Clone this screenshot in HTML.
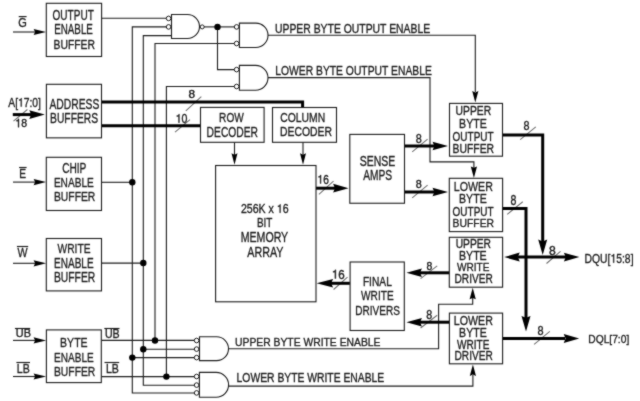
<!DOCTYPE html>
<html><head><meta charset="utf-8"><style>
html,body{margin:0;padding:0;background:#fff;}
svg{display:block;}
#w{width:640px;height:401px;overflow:hidden;will-change:transform;}
</style></head><body><div id="w">
<svg width="640" height="401" viewBox="0 0 640 401">
<defs><filter id="bl" x="0" y="0" width="100%" height="100%" color-interpolation-filters="sRGB"><feConvolveMatrix order="3" kernelMatrix="1 2 1 2 16 2 1 2 1" edgeMode="duplicate"/></filter></defs>
<g filter="url(#bl)"><rect width="640" height="401" fill="#fff"/>
<path d="M185.80,110.80 L201.30,96.60" stroke="#707070" stroke-width="1.1"/>
<path d="M175.00,132.10 L190.00,119.70" stroke="#707070" stroke-width="1.1"/>
<path d="M13.50,121.20 L27.40,109.50" stroke="#707070" stroke-width="1.1"/>
<path d="M318.90,194.40 L333.50,181.10" stroke="#707070" stroke-width="1.1"/>
<path d="M412.20,151.80 L427.60,139.10" stroke="#707070" stroke-width="1.1"/>
<path d="M412.20,197.80 L427.60,185.10" stroke="#707070" stroke-width="1.1"/>
<path d="M520.20,139.70 L535.80,126.80" stroke="#707070" stroke-width="1.1"/>
<path d="M507.20,214.40 L522.80,201.70" stroke="#707070" stroke-width="1.1"/>
<path d="M546.50,263.50 L560.50,251.30" stroke="#707070" stroke-width="1.1"/>
<path d="M534.10,344.30 L549.80,331.30" stroke="#707070" stroke-width="1.1"/>
<path d="M420.60,278.60 L437.20,265.90" stroke="#707070" stroke-width="1.1"/>
<path d="M420.60,328.00 L437.20,315.30" stroke="#707070" stroke-width="1.1"/>
<path d="M333.60,289.50 L347.50,277.20" stroke="#707070" stroke-width="1.1"/>
<path d="M13.00,32.00 L38.00,32.00" fill="none" stroke="#1c1c1c" stroke-width="1.1" stroke-linejoin="miter" stroke-linecap="butt"/>
<path d="M46.10,32.00 L33.60,35.10 L35.10,32.00 L33.60,28.90 Z" fill="#000"/>
<path d="M13.00,182.10 L38.00,182.10" fill="none" stroke="#1c1c1c" stroke-width="1.1" stroke-linejoin="miter" stroke-linecap="butt"/>
<path d="M46.10,182.10 L33.60,185.20 L35.10,182.10 L33.60,179.00 Z" fill="#000"/>
<path d="M13.00,263.30 L38.00,263.30" fill="none" stroke="#1c1c1c" stroke-width="1.1" stroke-linejoin="miter" stroke-linecap="butt"/>
<path d="M46.10,263.30 L33.60,266.40 L35.10,263.30 L33.60,260.20 Z" fill="#000"/>
<path d="M13.00,340.40 L38.00,340.40" fill="none" stroke="#1c1c1c" stroke-width="1.1" stroke-linejoin="miter" stroke-linecap="butt"/>
<path d="M46.10,340.40 L33.60,343.50 L35.10,340.40 L33.60,337.30 Z" fill="#000"/>
<path d="M13.00,376.50 L38.00,376.50" fill="none" stroke="#1c1c1c" stroke-width="1.1" stroke-linejoin="miter" stroke-linecap="butt"/>
<path d="M46.10,376.50 L33.60,379.60 L35.10,376.50 L33.60,373.40 Z" fill="#000"/>
<path d="M12.80,114.60 L32.00,114.60" fill="none" stroke="#000" stroke-width="3.0" stroke-linejoin="miter" stroke-linecap="butt"/>
<path d="M44.80,114.60 L29.30,118.90 L31.16,114.60 L29.30,110.30 Z" fill="#000"/>
<path d="M101.50,18.30 L167.00,18.30" fill="none" stroke="#1c1c1c" stroke-width="1.1" stroke-linejoin="miter" stroke-linecap="butt"/>
<path d="M167.00,26.90 L132.30,26.90 L132.30,393.00 L195.00,393.00" fill="none" stroke="#1c1c1c" stroke-width="1.1" stroke-linejoin="miter" stroke-linecap="butt"/>
<path d="M171.50,35.60 L143.30,35.60 L143.30,385.20 L195.00,385.20" fill="none" stroke="#1c1c1c" stroke-width="1.1" stroke-linejoin="miter" stroke-linecap="butt"/>
<path d="M235.00,43.50 L155.00,43.50 L155.00,340.40" fill="none" stroke="#1c1c1c" stroke-width="1.1" stroke-linejoin="miter" stroke-linecap="butt"/>
<path d="M235.00,86.50 L166.40,86.50 L166.40,376.60" fill="none" stroke="#1c1c1c" stroke-width="1.1" stroke-linejoin="miter" stroke-linecap="butt"/>
<path d="M101.50,182.30 L132.30,182.30" fill="none" stroke="#1c1c1c" stroke-width="1.1" stroke-linejoin="miter" stroke-linecap="butt"/>
<path d="M101.50,263.10 L143.30,263.10" fill="none" stroke="#1c1c1c" stroke-width="1.1" stroke-linejoin="miter" stroke-linecap="butt"/>
<path d="M101.50,340.40 L195.00,340.40" fill="none" stroke="#1c1c1c" stroke-width="1.1" stroke-linejoin="miter" stroke-linecap="butt"/>
<path d="M101.50,376.60 L195.00,376.60" fill="none" stroke="#1c1c1c" stroke-width="1.1" stroke-linejoin="miter" stroke-linecap="butt"/>
<path d="M143.30,349.20 L195.00,349.20" fill="none" stroke="#1c1c1c" stroke-width="1.1" stroke-linejoin="miter" stroke-linecap="butt"/>
<path d="M132.30,357.60 L195.00,357.60" fill="none" stroke="#1c1c1c" stroke-width="1.1" stroke-linejoin="miter" stroke-linecap="butt"/>
<path d="M204.00,26.90 L235.00,26.90" fill="none" stroke="#1c1c1c" stroke-width="1.1" stroke-linejoin="miter" stroke-linecap="butt"/>
<path d="M217.50,26.90 L217.50,69.60 L235.00,69.60" fill="none" stroke="#1c1c1c" stroke-width="1.1" stroke-linejoin="miter" stroke-linecap="butt"/>
<path d="M268.00,35.30 L475.30,35.30 L475.30,92.00" fill="none" stroke="#1c1c1c" stroke-width="1.1" stroke-linejoin="miter" stroke-linecap="butt"/>
<path d="M475.30,102.60 L472.20,91.10 L475.30,92.48 L478.40,91.10 Z" fill="#000"/>
<path d="M268.00,77.60 L430.00,77.60 L430.00,161.90 L473.90,161.90 L473.90,168.00" fill="none" stroke="#1c1c1c" stroke-width="1.1" stroke-linejoin="miter" stroke-linecap="butt"/>
<path d="M473.90,177.90 L470.80,166.40 L473.90,167.78 L477.00,166.40 Z" fill="#000"/>
<path d="M228.50,348.80 L438.60,348.80 L438.60,304.30 L472.70,304.30 L472.70,298.00" fill="none" stroke="#1c1c1c" stroke-width="1.1" stroke-linejoin="miter" stroke-linecap="butt"/>
<path d="M472.70,287.80 L475.80,299.30 L472.70,297.92 L469.60,299.30 Z" fill="#000"/>
<path d="M228.60,386.10 L472.90,386.10 L472.90,375.00" fill="none" stroke="#1c1c1c" stroke-width="1.1" stroke-linejoin="miter" stroke-linecap="butt"/>
<path d="M472.90,364.40 L476.00,375.90 L472.90,374.52 L469.80,375.90 Z" fill="#000"/>
<path d="M234.50,142.30 L234.50,155.00" fill="none" stroke="#1c1c1c" stroke-width="1.1" stroke-linejoin="miter" stroke-linecap="butt"/>
<path d="M234.50,164.80 L231.50,153.30 L234.50,154.68 L237.50,153.30 Z" fill="#000"/>
<path d="M303.00,142.30 L303.00,155.00" fill="none" stroke="#1c1c1c" stroke-width="1.1" stroke-linejoin="miter" stroke-linecap="butt"/>
<path d="M303.00,164.80 L300.00,153.30 L303.00,154.68 L306.00,153.30 Z" fill="#000"/>
<path d="M101.50,101.90 L302.60,101.90 L302.60,107.50" fill="none" stroke="#000" stroke-width="3.0" stroke-linejoin="miter" stroke-linecap="butt"/>
<path d="M101.50,125.70 L200.50,125.70" fill="none" stroke="#000" stroke-width="3.0" stroke-linejoin="miter" stroke-linecap="butt"/>
<path d="M316.00,188.20 L336.00,188.20" fill="none" stroke="#000" stroke-width="3.0" stroke-linejoin="miter" stroke-linecap="butt"/>
<path d="M348.60,188.20 L333.10,192.60 L334.96,188.20 L333.10,183.80 Z" fill="#000"/>
<path d="M404.20,146.00 L435.00,146.00" fill="none" stroke="#000" stroke-width="3.0" stroke-linejoin="miter" stroke-linecap="butt"/>
<path d="M448.00,146.00 L432.50,150.20 L434.36,146.00 L432.50,141.80 Z" fill="#000"/>
<path d="M404.20,192.00 L435.00,192.00" fill="none" stroke="#000" stroke-width="3.0" stroke-linejoin="miter" stroke-linecap="butt"/>
<path d="M448.00,192.00 L432.50,196.20 L434.36,192.00 L432.50,187.80 Z" fill="#000"/>
<path d="M502.50,135.00 L542.70,135.00 L542.70,242.00" fill="none" stroke="#000" stroke-width="3.0" stroke-linejoin="miter" stroke-linecap="butt"/>
<path d="M542.70,255.10 L538.20,239.60 L542.70,241.46 L547.20,239.60 Z" fill="#000"/>
<path d="M502.60,208.50 L526.00,208.50 L526.00,318.00" fill="none" stroke="#000" stroke-width="3.0" stroke-linejoin="miter" stroke-linecap="butt"/>
<path d="M526.00,331.50 L521.50,316.00 L526.00,317.86 L530.50,316.00 Z" fill="#000"/>
<path d="M518.00,257.10 L566.00,257.10" fill="none" stroke="#000" stroke-width="3.0" stroke-linejoin="miter" stroke-linecap="butt"/>
<path d="M504.20,257.10 L519.70,252.60 L517.84,257.10 L519.70,261.60 Z" fill="#000"/>
<path d="M579.40,257.10 L563.90,261.40 L565.76,257.10 L563.90,252.80 Z" fill="#000"/>
<path d="M502.60,338.60 L565.00,338.60" fill="none" stroke="#000" stroke-width="3.0" stroke-linejoin="miter" stroke-linecap="butt"/>
<path d="M579.20,338.60 L563.70,343.10 L565.56,338.60 L563.70,334.10 Z" fill="#000"/>
<path d="M449.30,272.80 L420.00,272.80" fill="none" stroke="#000" stroke-width="3.0" stroke-linejoin="miter" stroke-linecap="butt"/>
<path d="M406.40,272.80 L421.90,268.50 L420.04,272.80 L421.90,277.10 Z" fill="#000"/>
<path d="M449.30,322.20 L420.00,322.20" fill="none" stroke="#000" stroke-width="3.0" stroke-linejoin="miter" stroke-linecap="butt"/>
<path d="M406.40,322.20 L421.90,317.90 L420.04,322.20 L421.90,326.50 Z" fill="#000"/>
<path d="M349.90,283.30 L330.00,283.30" fill="none" stroke="#000" stroke-width="3.0" stroke-linejoin="miter" stroke-linecap="butt"/>
<path d="M316.60,283.30 L333.10,279.00 L331.12,283.30 L333.10,287.60 Z" fill="#000"/>
<rect x="46.30" y="3.30" width="55.30" height="53.20" fill="none" stroke="#1c1c1c" stroke-width="1.1"/>
<rect x="46.40" y="84.30" width="55.10" height="53.55" fill="none" stroke="#1c1c1c" stroke-width="1.1"/>
<rect x="46.30" y="157.30" width="55.20" height="53.20" fill="none" stroke="#1c1c1c" stroke-width="1.1"/>
<rect x="46.30" y="238.50" width="55.20" height="52.40" fill="none" stroke="#1c1c1c" stroke-width="1.1"/>
<rect x="46.40" y="329.90" width="54.90" height="52.70" fill="none" stroke="#1c1c1c" stroke-width="1.1"/>
<rect x="200.50" y="107.40" width="63.60" height="34.90" fill="none" stroke="#1c1c1c" stroke-width="1.1"/>
<rect x="272.50" y="107.50" width="64.00" height="34.80" fill="none" stroke="#1c1c1c" stroke-width="1.1"/>
<rect x="215.60" y="165.50" width="100.40" height="136.30" fill="none" stroke="#1c1c1c" stroke-width="1.1"/>
<rect x="349.80" y="134.40" width="54.70" height="68.85" fill="none" stroke="#1c1c1c" stroke-width="1.1"/>
<rect x="350.10" y="262.00" width="54.20" height="68.50" fill="none" stroke="#1c1c1c" stroke-width="1.1"/>
<rect x="449.50" y="103.40" width="53.00" height="52.80" fill="none" stroke="#1c1c1c" stroke-width="1.1"/>
<rect x="449.30" y="178.30" width="53.30" height="53.30" fill="none" stroke="#1c1c1c" stroke-width="1.1"/>
<rect x="449.30" y="237.30" width="53.30" height="49.90" fill="none" stroke="#1c1c1c" stroke-width="1.1"/>
<rect x="449.40" y="313.10" width="53.20" height="50.70" fill="none" stroke="#1c1c1c" stroke-width="1.1"/>
<path d="M171.50,14.50 L187.50,14.50 A12.00,12.00 0 0 1 187.50,38.50 L171.50,38.50 Z" fill="#fff" stroke="#1c1c1c" stroke-width="1.1"/>
<circle cx="168.60" cy="18.40" r="2.3" fill="#fff" stroke="#1c1c1c" stroke-width="1"/>
<circle cx="168.60" cy="26.90" r="2.3" fill="#fff" stroke="#1c1c1c" stroke-width="1"/>
<circle cx="202.20" cy="26.90" r="2.0" fill="#fff" stroke="#1c1c1c" stroke-width="1"/>
<path d="M239.40,23.10 L255.80,23.10 A12.20,12.20 0 0 1 255.80,47.50 L239.40,47.50 Z" fill="#fff" stroke="#1c1c1c" stroke-width="1.1"/>
<circle cx="236.60" cy="26.90" r="2.3" fill="#fff" stroke="#1c1c1c" stroke-width="1"/>
<circle cx="236.60" cy="43.50" r="2.3" fill="#fff" stroke="#1c1c1c" stroke-width="1"/>
<path d="M239.40,65.40 L255.55,65.40 A12.45,12.45 0 0 1 255.55,90.30 L239.40,90.30 Z" fill="#fff" stroke="#1c1c1c" stroke-width="1.1"/>
<circle cx="236.60" cy="69.60" r="2.3" fill="#fff" stroke="#1c1c1c" stroke-width="1"/>
<circle cx="236.60" cy="86.50" r="2.3" fill="#fff" stroke="#1c1c1c" stroke-width="1"/>
<path d="M199.50,336.80 L216.60,336.80 A11.90,11.90 0 0 1 216.60,360.60 L199.50,360.60 Z" fill="#fff" stroke="#1c1c1c" stroke-width="1.1"/>
<circle cx="196.60" cy="340.50" r="2.3" fill="#fff" stroke="#1c1c1c" stroke-width="1"/>
<circle cx="196.60" cy="349.10" r="2.3" fill="#fff" stroke="#1c1c1c" stroke-width="1"/>
<circle cx="196.60" cy="357.60" r="2.3" fill="#fff" stroke="#1c1c1c" stroke-width="1"/>
<path d="M199.40,372.40 L216.15,372.40 A12.45,12.45 0 0 1 216.15,397.30 L199.40,397.30 Z" fill="#fff" stroke="#1c1c1c" stroke-width="1.1"/>
<circle cx="196.60" cy="376.50" r="2.3" fill="#fff" stroke="#1c1c1c" stroke-width="1"/>
<circle cx="196.60" cy="385.10" r="2.3" fill="#fff" stroke="#1c1c1c" stroke-width="1"/>
<circle cx="196.60" cy="392.90" r="2.3" fill="#fff" stroke="#1c1c1c" stroke-width="1"/>
<circle cx="217.50" cy="26.90" r="3.2" fill="#000"/>
<circle cx="132.30" cy="182.30" r="3.2" fill="#000"/>
<circle cx="143.30" cy="263.00" r="3.2" fill="#000"/>
<circle cx="155.00" cy="340.50" r="3.2" fill="#000"/>
<circle cx="143.30" cy="349.20" r="3.2" fill="#000"/>
<circle cx="132.30" cy="357.60" r="3.2" fill="#000"/>
<circle cx="166.40" cy="376.60" r="3.2" fill="#000"/>
<g font-family="Liberation Sans, sans-serif" fill="#1e1e1e" stroke="#1e1e1e" stroke-width="0.35" stroke-linejoin="round">
<text transform="translate(52.57,19.51) scale(0.727,1)" font-size="13.80">OUTPUT</text>
<text transform="translate(54.19,33.83) scale(0.713,1)" font-size="13.76">ENABLE</text>
<text transform="translate(53.55,48.51) scale(0.841,1)" font-size="12.31">BUFFER</text>
<text transform="translate(49.49,108.50) scale(0.751,1)" font-size="13.72">ADDRESS</text>
<text transform="translate(50.09,122.52) scale(0.748,1)" font-size="13.75">BUFFERS</text>
<text transform="translate(62.15,172.58) scale(0.734,1)" font-size="13.84">CHIP</text>
<text transform="translate(53.88,186.62) scale(0.770,1)" font-size="13.14">ENABLE</text>
<text transform="translate(53.91,201.14) scale(0.774,1)" font-size="13.39">BUFFER</text>
<text transform="translate(57.54,252.54) scale(0.758,1)" font-size="13.52">WRITE</text>
<text transform="translate(54.12,267.60) scale(0.720,1)" font-size="13.92">ENABLE</text>
<text transform="translate(53.94,281.55) scale(0.748,1)" font-size="13.82">BUFFER</text>
<text transform="translate(60.10,347.35) scale(0.783,1)" font-size="13.46">BYTE</text>
<text transform="translate(54.07,361.62) scale(0.747,1)" font-size="13.46">ENABLE</text>
<text transform="translate(53.98,376.27) scale(0.759,1)" font-size="13.62">BUFFER</text>
<text transform="translate(219.12,122.27) scale(0.745,1)" font-size="13.55">ROW</text>
<text transform="translate(206.62,136.59) scale(0.748,1)" font-size="13.75">DECODER</text>
<text transform="translate(280.21,121.88) scale(0.779,1)" font-size="13.32">COLUMN</text>
<text transform="translate(280.08,136.29) scale(0.847,1)" font-size="12.24">DECODER</text>
<text transform="translate(240.98,212.77) scale(0.894,1)" font-size="11.84">256K x &#8199;6</text>
<path d="M279.65,212.77 L280.57,212.77 L280.57,204.38 L279.89,204.38 L279.74,204.86 L279.40,205.34 L278.87,205.67 L277.92,205.81 L277.92,206.68 L279.65,206.68 Z"/>
<text transform="translate(256.92,227.34) scale(0.753,1)" font-size="13.21">BIT</text>
<text transform="translate(240.64,242.47) scale(0.750,1)" font-size="14.15">MEMORY</text>
<text transform="translate(247.31,256.60) scale(0.758,1)" font-size="14.15">ARRAY</text>
<text transform="translate(359.67,165.50) scale(0.762,1)" font-size="13.78">SENSE</text>
<text transform="translate(363.19,180.05) scale(0.713,1)" font-size="14.33">AMPS</text>
<text transform="translate(362.88,285.65) scale(0.859,1)" font-size="11.90">FINAL</text>
<text transform="translate(361.08,300.28) scale(0.755,1)" font-size="13.39">WRITE</text>
<text transform="translate(355.29,314.55) scale(0.761,1)" font-size="13.19">DRIVERS</text>
<text transform="translate(455.62,114.57) scale(0.837,1)" font-size="12.32">UPPER</text>
<text transform="translate(459.12,128.41) scale(0.839,1)" font-size="12.64">BYTE</text>
<text transform="translate(452.57,140.62) scale(0.836,1)" font-size="11.94">OUTPUT</text>
<text transform="translate(452.60,153.07) scale(0.842,1)" font-size="12.33">BUFFER</text>
<text transform="translate(453.84,191.13) scale(0.791,1)" font-size="13.47">LOWER</text>
<text transform="translate(459.06,203.29) scale(0.879,1)" font-size="12.04">BYTE</text>
<text transform="translate(452.57,215.62) scale(0.836,1)" font-size="11.94">OUTPUT</text>
<text transform="translate(452.61,227.19) scale(0.892,1)" font-size="11.62">BUFFER</text>
<text transform="translate(455.68,247.62) scale(0.834,1)" font-size="12.30">UPPER</text>
<text transform="translate(458.96,259.76) scale(0.890,1)" font-size="11.94">BYTE</text>
<text transform="translate(456.92,271.28) scale(0.856,1)" font-size="11.79">WRITE</text>
<text transform="translate(454.54,283.42) scale(0.838,1)" font-size="12.08">DRIVER</text>
<text transform="translate(453.85,324.61) scale(0.855,1)" font-size="12.45">LOWER</text>
<text transform="translate(459.09,336.73) scale(0.888,1)" font-size="11.90">BYTE</text>
<text transform="translate(457.02,348.59) scale(0.842,1)" font-size="11.93">WRITE</text>
<text transform="translate(454.55,359.51) scale(0.823,1)" font-size="12.31">DRIVER</text>
<text transform="translate(275.01,32.74) scale(0.850,1)" font-size="12.24">UPPER BYTE OUTPUT ENABLE</text>
<text transform="translate(275.22,75.26) scale(0.768,1)" font-size="13.46">LOWER BYTE OUTPUT ENABLE</text>
<text transform="translate(235.02,346.28) scale(0.895,1)" font-size="11.58">UPPER BYTE WRITE ENABLE</text>
<text transform="translate(236.59,382.42) scale(0.849,1)" font-size="12.19">LOWER BYTE WRITE ENABLE</text>
<text transform="translate(584.59,262.69) scale(0.841,1)" font-size="12.32">DQU[&#8199;5:8]</text>
<path d="M613.24,262.69 L614.14,262.69 L614.14,253.95 L613.47,253.95 L613.32,254.46 L612.99,254.95 L612.47,255.30 L611.54,255.44 L611.54,256.34 L613.24,256.34 Z"/>
<text transform="translate(588.29,343.10) scale(0.879,1)" font-size="11.65">DQL[7:0]</text>
<text transform="translate(8.28,106.60) scale(0.865,1)" font-size="11.93">A[&#8199;7:0]</text>
<path d="M20.76,106.60 L21.66,106.60 L21.66,98.15 L20.99,98.15 L20.84,98.64 L20.51,99.11 L20.00,99.45 L19.07,99.59 L19.07,100.46 L20.76,100.46 Z"/>
<text transform="translate(18.20,26.58) scale(0.901,1)" font-size="12.23">G</text>
<text transform="translate(19.24,178.48) scale(0.755,1)" font-size="13.42">E</text>
<text transform="translate(17.46,257.29) scale(0.787,1)" font-size="13.52">W</text>
<text transform="translate(15.80,337.42) scale(1.022,1)" font-size="10.67">UB</text>
<text transform="translate(16.79,372.67) scale(0.869,1)" font-size="12.19">LB</text>
<text transform="translate(104.94,337.53) scale(0.897,1)" font-size="11.86">UB</text>
<text transform="translate(105.94,372.73) scale(0.880,1)" font-size="12.08">LB</text>
<text transform="translate(15.31,127.21) scale(0.892,1)" font-size="11.80" stroke-width="0.4">&#8199;8</text>
<path d="M18.09,127.21 L19.00,127.21 L19.00,118.85 L18.32,118.85 L18.17,119.33 L17.83,119.80 L17.31,120.13 L16.36,120.27 L16.36,121.14 L18.09,121.14 Z" stroke-width="0.4"/>
<text transform="translate(188.45,98.07) scale(1.114,1)" font-size="10.56" stroke-width="0.4">8</text>
<text transform="translate(175.72,122.64) scale(0.884,1)" font-size="11.96" stroke-width="0.4">&#8199;0</text>
<path d="M178.51,122.64 L179.43,122.64 L179.43,114.17 L178.74,114.17 L178.59,114.66 L178.25,115.13 L177.73,115.47 L176.78,115.61 L176.78,116.49 L178.51,116.49 Z" stroke-width="0.4"/>
<text transform="translate(317.49,183.55) scale(0.844,1)" font-size="12.03" stroke-width="0.4">&#8199;6</text>
<path d="M320.17,183.55 L321.05,183.55 L321.05,175.03 L320.39,175.03 L320.25,175.52 L319.92,176.00 L319.42,176.34 L318.50,176.48 L318.50,177.36 L320.17,177.36 Z" stroke-width="0.4"/>
<text transform="translate(415.64,143.09) scale(0.806,1)" font-size="13.46" stroke-width="0.4">8</text>
<text transform="translate(415.70,188.35) scale(0.917,1)" font-size="11.76" stroke-width="0.4">8</text>
<text transform="translate(523.46,129.74) scale(0.811,1)" font-size="13.30" stroke-width="0.4">8</text>
<text transform="translate(510.46,204.58) scale(0.760,1)" font-size="13.96" stroke-width="0.4">8</text>
<text transform="translate(549.07,254.58) scale(1.003,1)" font-size="12.12" stroke-width="0.4">8</text>
<text transform="translate(537.62,334.62) scale(0.829,1)" font-size="13.19" stroke-width="0.4">8</text>
<text transform="translate(426.45,270.35) scale(0.900,1)" font-size="11.57" stroke-width="0.4">8</text>
<text transform="translate(426.37,318.89) scale(0.886,1)" font-size="12.04" stroke-width="0.4">8</text>
<text transform="translate(331.84,278.51) scale(0.947,1)" font-size="12.22" stroke-width="0.4">&#8199;6</text>
<path d="M334.89,278.51 L335.90,278.51 L335.90,269.85 L335.15,269.85 L334.99,270.35 L334.62,270.84 L334.04,271.18 L332.99,271.33 L332.99,272.22 L334.89,272.22 Z" stroke-width="0.4"/>
</g>
<path d="M18.70,16.60 L26.60,16.60" stroke="#1e1e1e" stroke-width="1.15"/>
<path d="M19.10,167.50 L26.60,167.50" stroke="#1e1e1e" stroke-width="1.15"/>
<path d="M16.90,246.50 L28.20,246.50" stroke="#1e1e1e" stroke-width="1.15"/>
<path d="M14.90,328.50 L30.20,328.50" stroke="#1e1e1e" stroke-width="1.15"/>
<path d="M16.40,362.50 L30.00,362.50" stroke="#1e1e1e" stroke-width="1.15"/>
<path d="M104.30,328.50 L119.50,328.50" stroke="#1e1e1e" stroke-width="1.15"/>
<path d="M104.50,362.50 L119.20,362.50" stroke="#1e1e1e" stroke-width="1.15"/>
</g></svg>
</div></body></html>
